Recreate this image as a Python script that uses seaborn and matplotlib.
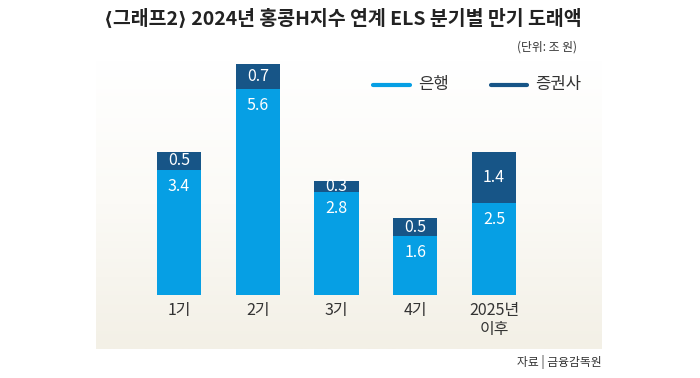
import numpy as np
import pandas as pd
import matplotlib
matplotlib.use("Agg")
import matplotlib.pyplot as plt
from matplotlib.lines import Line2D
from matplotlib.colors import LinearSegmentedColormap
import seaborn as sns

categories = ["1기", "2기", "3기", "4기", "2025년\n이후"]
bank = [3.4, 5.6, 2.8, 1.6, 2.5]
securities = [0.5, 0.7, 0.3, 0.5, 1.4]

BANK_C = "#069fe4"
SEC_C = "#175587"

sns.set_theme(style="white")
plt.rcParams["font.family"] = ["Noto Sans CJK KR", "DejaVu Sans"]

df = pd.DataFrame({"cat": categories, "bank": bank, "sec": securities})
df["total"] = df["bank"] + df["sec"]

W, H = 700, 378
fig = plt.figure(figsize=(7, 3.78), dpi=100)
fig.patch.set_facecolor("white")

# axes spanning the beige panel
left, right, top, bottom = 96, 602, 60, 349
ax = fig.add_axes([left / W, 1 - bottom / H, (right - left) / W, (bottom - top) / H])

# background gradient
cmap = LinearSegmentedColormap.from_list("bg", ["#ffffff", "#fbfaf6", "#f3f0e6"])
grad = np.linspace(0, 1, 256).reshape(-1, 1)
ax.imshow(grad, aspect="auto", cmap=cmap, extent=[-1.054, 5.371, -1.47, 6.40],
          origin="upper", zorder=0)

sns.barplot(data=df, x="cat", y="total", color=SEC_C, width=0.56, ax=ax,
            saturation=1, zorder=2, edgecolor="none", linewidth=0)
sns.barplot(data=df, x="cat", y="bank", color=BANK_C, width=0.56, ax=ax,
            saturation=1, zorder=3, edgecolor="none", linewidth=0)

ax.set_xlim(-1.054, 5.371)
ax.set_ylim(-1.47, 6.40)
ax.set_xlabel("")
ax.set_ylabel("")
ax.set_yticks([])
ax.set_xticks([])
for s in ax.spines.values():
    s.set_visible(False)

for i, (b, s) in enumerate(zip(bank, securities)):
    ax.text(i, b - 0.45, f"{b}", color="white", ha="center", va="center",
            fontsize=11.5, fontweight="light", zorder=5)
    ax.text(i, b + s / 2, f"{s}", color="white", ha="center", va="center",
            fontsize=11.5, fontweight="light", zorder=5)
    ax.text(i, -0.2, categories[i], color="#333333", ha="center", va="top",
            fontsize=11.5, fontweight="light", linespacing=1.1, zorder=5)

# Title and notes
fig.text(343 / W, 1 - 18 / H, "⟨그래프2⟩ 2024년 홍콩H지수 연계 ELS 분기별 만기 도래액",
         ha="center", va="center", fontsize=14, fontweight="bold", color="#222222")
fig.text(577 / W, 1 - 47 / H, "(단위: 조 원)", ha="right", va="center",
         fontsize=8.5, color="#333333")
fig.text(602 / W, 1 - 362 / H, "자료 | 금융감독원", ha="right", va="center",
         fontsize=8.5, color="#333333")

# Legend
fig.add_artist(Line2D([373 / W, 410 / W], [1 - 85 / H, 1 - 85 / H], color=BANK_C, lw=3))
fig.text(418 / W, 1 - 85 / H, "은행", ha="left", va="center", fontsize=12,
         fontweight="light", color="#333333")
fig.add_artist(Line2D([491 / W, 527 / W], [1 - 85 / H, 1 - 85 / H], color=SEC_C, lw=3))
fig.text(535 / W, 1 - 85 / H, "증권사", ha="left", va="center", fontsize=12,
         fontweight="light", color="#333333")

fig.savefig("out.png", dpi=100)
